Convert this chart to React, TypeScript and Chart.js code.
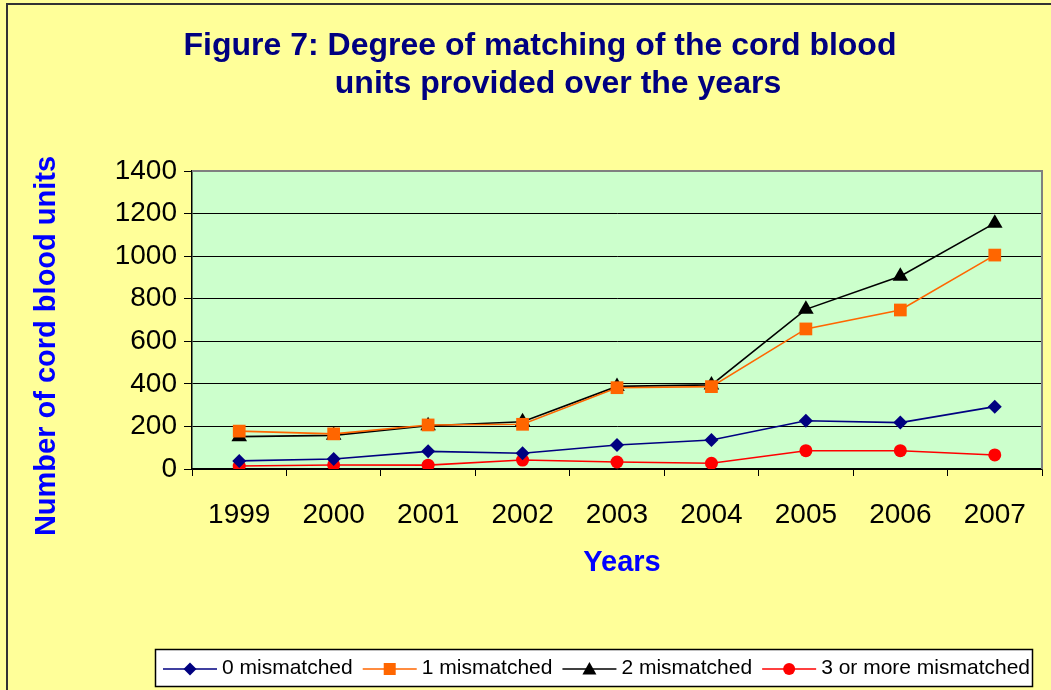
import React, { useEffect, useRef } from "react";
import { Chart, registerables } from "chart.js";

Chart.register(...registerables);

const years = ["1999", "2000", "2001", "2002", "2003", "2004", "2005", "2006", "2007"];
const mismatched0 = [38, 47, 83, 74, 113, 136, 227, 218, 293];
const mismatched1 = [178, 165, 207, 210, 382, 387, 658, 747, 1005];
const mismatched2 = [152, 158, 203, 222, 388, 395, 750, 906, 1155];
const mismatched3 = [14, 19, 18, 42, 33, 27, 86, 86, 66];
const seriesLabels = ["0 mismatched", "1 mismatched", "2 mismatched", "3 or more mismatched"];
const titleLines = ["Figure 7: Degree of matching of the cord blood", "units provided over the years"];
const yTitle = "Number of cord blood units";
const xTitle = "Years";

const FONT = '"Liberation Sans", Arial, Helvetica, sans-serif';
const colors = ["#000080", "#FF6600", "#000000", "#FF0000"];
const styles = ["rectRot", "rect", "triangle", "circle"];
const radii = [7, 9, 9, 6.5];

function drawMarker(ctx: CanvasRenderingContext2D, style: string, x: number, y: number, color: string) {
  ctx.save();
  ctx.fillStyle = color;
  ctx.beginPath();
  if (style === "rectRot") {
    const r = 6.5;
    ctx.moveTo(x, y - r);
    ctx.lineTo(x + r, y);
    ctx.lineTo(x, y + r);
    ctx.lineTo(x - r, y);
    ctx.closePath();
  } else if (style === "rect") {
    ctx.rect(x - 6, y - 6, 12, 12);
  } else if (style === "triangle") {
    ctx.moveTo(x, y - 7);
    ctx.lineTo(x + 7, y + 5.5);
    ctx.lineTo(x - 7, y + 5.5);
    ctx.closePath();
  } else {
    ctx.arc(x, y, 6, 0, Math.PI * 2);
  }
  ctx.fill();
  ctx.restore();
}

const decorPlugin = {
  id: "decor",
  beforeDraw(chart: any) {
    const { ctx, width, height, chartArea: a } = chart;
    ctx.save();
    ctx.fillStyle = "#FFFF99";
    ctx.fillRect(0, 0, width, height);
    ctx.strokeStyle = "#333333";
    ctx.lineWidth = 2;
    ctx.strokeRect(7, 4, width + 20, height + 20);
    ctx.fillStyle = "#CCFFCC";
    ctx.fillRect(a.left, a.top, a.right - a.left, a.bottom - a.top);
    ctx.restore();
  },
  beforeDatasetsDraw(chart: any) {
    const { ctx, chartArea: a } = chart;
    ctx.save();
    ctx.strokeStyle = "#808080";
    ctx.lineWidth = 2;
    ctx.beginPath();
    ctx.moveTo(a.left, a.top);
    ctx.lineTo(a.right, a.top);
    ctx.lineTo(a.right, a.bottom);
    ctx.stroke();
    ctx.restore();
  },
  afterDraw(chart: any) {
    const { ctx } = chart;
    ctx.save();
    // main title
    ctx.fillStyle = "#000080";
    ctx.font = `bold 32px ${FONT}`;
    ctx.textAlign = "center";
    ctx.textBaseline = "alphabetic";
    ctx.fillText(titleLines[0], 540, 55);
    ctx.fillText(titleLines[1], 558, 93);
    // axis titles
    ctx.fillStyle = "#0000FF";
    ctx.font = `bold 29px ${FONT}`;
    ctx.fillText(xTitle, 622, 571);
    ctx.save();
    ctx.translate(55, 346);
    ctx.rotate(-Math.PI / 2);
    ctx.fillText(yTitle, 0, 0);
    ctx.restore();
    // legend
    ctx.fillStyle = "#FFFFFF";
    ctx.fillRect(155, 649, 877, 38);
    ctx.strokeStyle = "#000000";
    ctx.lineWidth = 1.5;
    ctx.strokeRect(155.5, 649.5, 877, 37);
    ctx.font = `21px ${FONT}`;
    ctx.textAlign = "left";
    ctx.textBaseline = "middle";
    let x = 163;
    const ly = 669;
    chart.data.datasets.forEach((ds: any, i: number) => {
      ctx.strokeStyle = ds.borderColor;
      ctx.lineWidth = 1.5;
      ctx.beginPath();
      ctx.moveTo(x, ly);
      ctx.lineTo(x + 54, ly);
      ctx.stroke();
      drawMarker(ctx, styles[i], x + 27, ly, ds.borderColor);
      x += 59;
      ctx.fillStyle = "#000000";
      ctx.fillText(ds.label, x, 668);
      x += ctx.measureText(ds.label).width + 10;
    });
    ctx.restore();
  },
};

export default function App() {
  const ref = useRef<HTMLCanvasElement | null>(null);
  useEffect(() => {
    if (!ref.current) return;
    const values = [mismatched0, mismatched1, mismatched2, mismatched3];
    const chart = new Chart(ref.current, {
      type: "line",
      data: {
        labels: years,
        datasets: values.map((v, i) => ({
          label: seriesLabels[i],
          data: v,
          borderColor: colors[i],
          backgroundColor: colors[i],
          pointBackgroundColor: colors[i],
          pointBorderColor: colors[i],
          pointBorderWidth: 0,
          pointStyle: styles[i] as any,
          pointRadius: radii[i],
          borderWidth: 1.6,
          tension: 0,
          fill: false,
        })),
      },
      options: {
        responsive: false,
        animation: false,
        devicePixelRatio: 1,
        layout: { padding: { top: 171, right: 8, bottom: 0, left: 0 } },
        plugins: {
          legend: { display: false },
          title: { display: false },
          tooltip: { enabled: false },
        },
        scales: {
          x: {
            type: "category",
            offset: true,
            afterFit: (s: any) => {
              s.height = 221;
            },
            grid: {
              display: true,
              drawOnChartArea: false,
              drawTicks: true,
              tickLength: 7,
              offset: true,
              color: "#000000",
            },
            border: { display: true, color: "#000000", width: 1.5 },
            ticks: {
              color: "#000000",
              font: { family: FONT, size: 28 },
              padding: 22,
              maxRotation: 0,
              autoSkip: false,
            },
          },
          y: {
            min: 0,
            max: 1400,
            afterFit: (s: any) => {
              s.width = 192;
            },
            grid: {
              color: "#000000",
              lineWidth: 1,
              drawTicks: true,
              tickLength: 8,
            },
            border: { display: true, color: "#000000", width: 1.5 },
            ticks: {
              stepSize: 200,
              color: "#000000",
              font: { family: FONT, size: 28 },
              padding: 7,
              callback: (v: any) => String(v),
            },
          },
        },
      },
      plugins: [decorPlugin],
    });
    return () => chart.destroy();
  }, []);
  return (
    <div style={{ position: "fixed", left: 0, top: 0, width: 1051, height: 690 }}>
      <canvas ref={ref} width={1051} height={690} style={{ display: "block", width: 1051, height: 690 }} />
    </div>
  );
}
